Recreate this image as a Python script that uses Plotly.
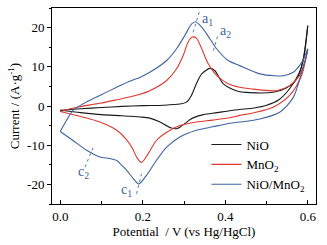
import plotly.graph_objects as go

# ---- data ----
nio_fwd_v = [0.0, 0.05, 0.1, 0.15, 0.2, 0.25, 0.29, 0.306, 0.318, 0.33, 0.343, 0.363, 0.375, 0.395, 0.427, 0.46, 0.516, 0.548, 0.573, 0.589, 0.6]
nio_fwd_i = [-1.1, -0.7, -0.4, -0.1, 0.1, 0.2, 0.5, 1.0, 2.7, 5.7, 8.2, 9.6, 9.0, 5.7, 3.9, 3.4, 3.5, 4.6, 6.9, 11.6, 20.5]
nio_rev_v = [0.6, 0.59, 0.58, 0.556, 0.53, 0.5, 0.47, 0.435, 0.411, 0.38, 0.347, 0.325, 0.314, 0.302, 0.29, 0.282, 0.266, 0.242, 0.217, 0.193, 0.15, 0.1, 0.05, 0.0]
nio_rev_i = [20.5, 12.5, 8.6, 4.4, 1.6, 0.2, -0.5, -0.9, -1.2, -1.7, -2.2, -2.9, -3.5, -4.5, -5.4, -5.8, -5.5, -4.1, -3.1, -2.8, -2.5, -2.2, -1.7, -1.1]

mno2_fwd_v = [0.0, 0.04, 0.096, 0.137, 0.18, 0.217, 0.258, 0.282, 0.298, 0.31, 0.32, 0.33, 0.343, 0.359, 0.379, 0.407, 0.435, 0.46, 0.524, 0.556, 0.58, 0.597, 0.6]
mno2_fwd_i = [-1.4, -0.3, 0.7, 1.6, 2.6, 3.9, 6.5, 9.5, 12.9, 16.3, 17.6, 17.3, 14.6, 10.7, 7.8, 5.7, 4.8, 4.4, 3.9, 5.2, 7.8, 12.9, 14.3]
mno2_rev_v = [0.6, 0.597, 0.585, 0.556, 0.516, 0.47, 0.435, 0.411, 0.37, 0.33, 0.29, 0.258, 0.233, 0.213, 0.197, 0.185, 0.175, 0.16, 0.137, 0.096, 0.056, 0.015, 0.0]
mno2_rev_i = [14.3, 12.9, 7.8, 2.7, -0.3, -1.7, -2.4, -3.0, -3.6, -4.1, -5.0, -6.7, -8.8, -12.2, -14.4, -13.0, -10.8, -8.5, -6.2, -4.1, -2.85, -1.8, -1.4]

comp_fwd_v = [0.0, 0.015, 0.031, 0.056, 0.096, 0.137, 0.17, 0.193, 0.217, 0.258, 0.282, 0.302, 0.318, 0.328, 0.343, 0.363, 0.379, 0.407, 0.435, 0.484, 0.52, 0.54, 0.565, 0.58, 0.59, 0.6]
comp_fwd_i = [-6.5, -3.7, -1.1, 0.6, 2.7, 4.8, 6.4, 7.3, 8.6, 11.6, 14.6, 18.0, 20.9, 21.5, 20.1, 17.1, 14.6, 11.6, 10.3, 8.2, 7.7, 7.7, 8.6, 10.3, 12.0, 14.6]
comp_rev_v = [0.6, 0.595, 0.585, 0.565, 0.532, 0.484, 0.435, 0.411, 0.37, 0.33, 0.29, 0.258, 0.233, 0.209, 0.19, 0.177, 0.161, 0.145, 0.137, 0.12, 0.096, 0.064, 0.031, 0.0]
comp_rev_i = [14.6, 12.0, 8.5, 2.2, -1.6, -3.3, -4.1, -4.4, -5.3, -6.2, -7.9, -10.5, -13.9, -17.7, -19.9, -18.5, -16.4, -14.7, -13.9, -13.4, -13.0, -11.3, -8.8, -6.5]

series_names = ["NiO", "MnO<sub>2</sub>", "NiO/MnO<sub>2</sub>"]
series_colors = ["#1a1a1a", "#e0382f", "#3f63a3"]

x_ticks = [0.0, 0.2, 0.4, 0.6]
x_tick_text = ["0.0", "0.2", "0.4", "0.6"]
y_ticks = [-20, -10, 0, 10, 20]
y_tick_text = ["-20", "-10", "0", "10", "20"]

# peak labels: (text, text x, text y, line x0, y0, x1, y1)
peak_labels = [
    ("a<sub>1</sub>", 0.356, 22.0, 0.322, 18.8, 0.338, 24.3),
    ("a<sub>2</sub>", 0.400, 19.0, 0.371, 14.1, 0.383, 18.4),
    ("c<sub>1</sub>", 0.160, -21.5, 0.185, -22.4, 0.197, -17.3),
    ("c<sub>2</sub>", 0.057, -16.9, 0.060, -15.6, 0.080, -10.5),
]

FONT = "Liberation Serif"
fig = go.Figure()
data = [
    (nio_fwd_v, nio_fwd_i, nio_rev_v, nio_rev_i),
    (mno2_fwd_v, mno2_fwd_i, mno2_rev_v, mno2_rev_i),
    (comp_fwd_v, comp_fwd_i, comp_rev_v, comp_rev_i),
]
for (fv, fi, rv, ri), name, col in zip(data, series_names, series_colors):
    fig.add_trace(go.Scatter(x=fv, y=fi, mode="lines", name=name, legendgroup=name,
                             line=dict(color=col, width=1.1, shape="spline", smoothing=0.8)))
    fig.add_trace(go.Scatter(x=rv, y=ri, mode="lines", name=name, legendgroup=name, showlegend=False,
                             line=dict(color=col, width=1.1, shape="spline", smoothing=0.8)))

for txt, tx, ty, x0, y0, x1, y1 in peak_labels:
    fig.add_shape(type="line", x0=x0, y0=y0, x1=x1, y1=y1, xref="x", yref="y",
                  line=dict(color="#5a7ab5", width=1, dash="dot"))
    fig.add_annotation(x=tx, y=ty, text=txt, showarrow=False, xref="x", yref="y",
                       font=dict(family=FONT, size=14, color="#3f63a3"))

fig.update_layout(
    width=327, height=245, autosize=False,
    margin=dict(l=52, r=11, t=8, b=41, pad=0, autoexpand=False),
    paper_bgcolor="white", plot_bgcolor="white",
    font=dict(family=FONT, size=13, color="black"),
    legend=dict(x=0.585, y=0.38, xanchor="left", yanchor="top", bgcolor="rgba(0,0,0,0)",
                font=dict(family=FONT, size=13), tracegroupgap=0, itemwidth=30),
    xaxis=dict(range=[-0.02, 0.62], tickvals=x_ticks, ticktext=x_tick_text, automargin=False,
               ticks="inside", ticklen=4, tickcolor="black", showline=True, linecolor="black",
               linewidth=1, mirror=True, showgrid=False, zeroline=False,
               minor=dict(dtick=0.1, tick0=0.0, ticks="inside", ticklen=3, tickcolor="black"),
               title=dict(text="Potential  / V (vs Hg/HgCl)", font=dict(size=13), standoff=4),
               tickfont=dict(size=13)),
    yaxis=dict(range=[-25, 25], tickvals=y_ticks, ticktext=y_tick_text, automargin=False,
               ticks="outside", ticklen=4, tickcolor="black", showline=True, linecolor="black",
               linewidth=1, mirror=True, showgrid=False, zeroline=False,
               minor=dict(dtick=5, tick0=0, ticks="outside", ticklen=2, tickcolor="black"),
               title=dict(text="Current / (A·g<sup>-1</sup>)", font=dict(size=13), standoff=4),
               tickfont=dict(size=13)),
)
fig.write_html("out.html", config={"displayModeBar": False},
               post_script="document.body.style.margin='0';document.body.style.overflow='hidden';")
